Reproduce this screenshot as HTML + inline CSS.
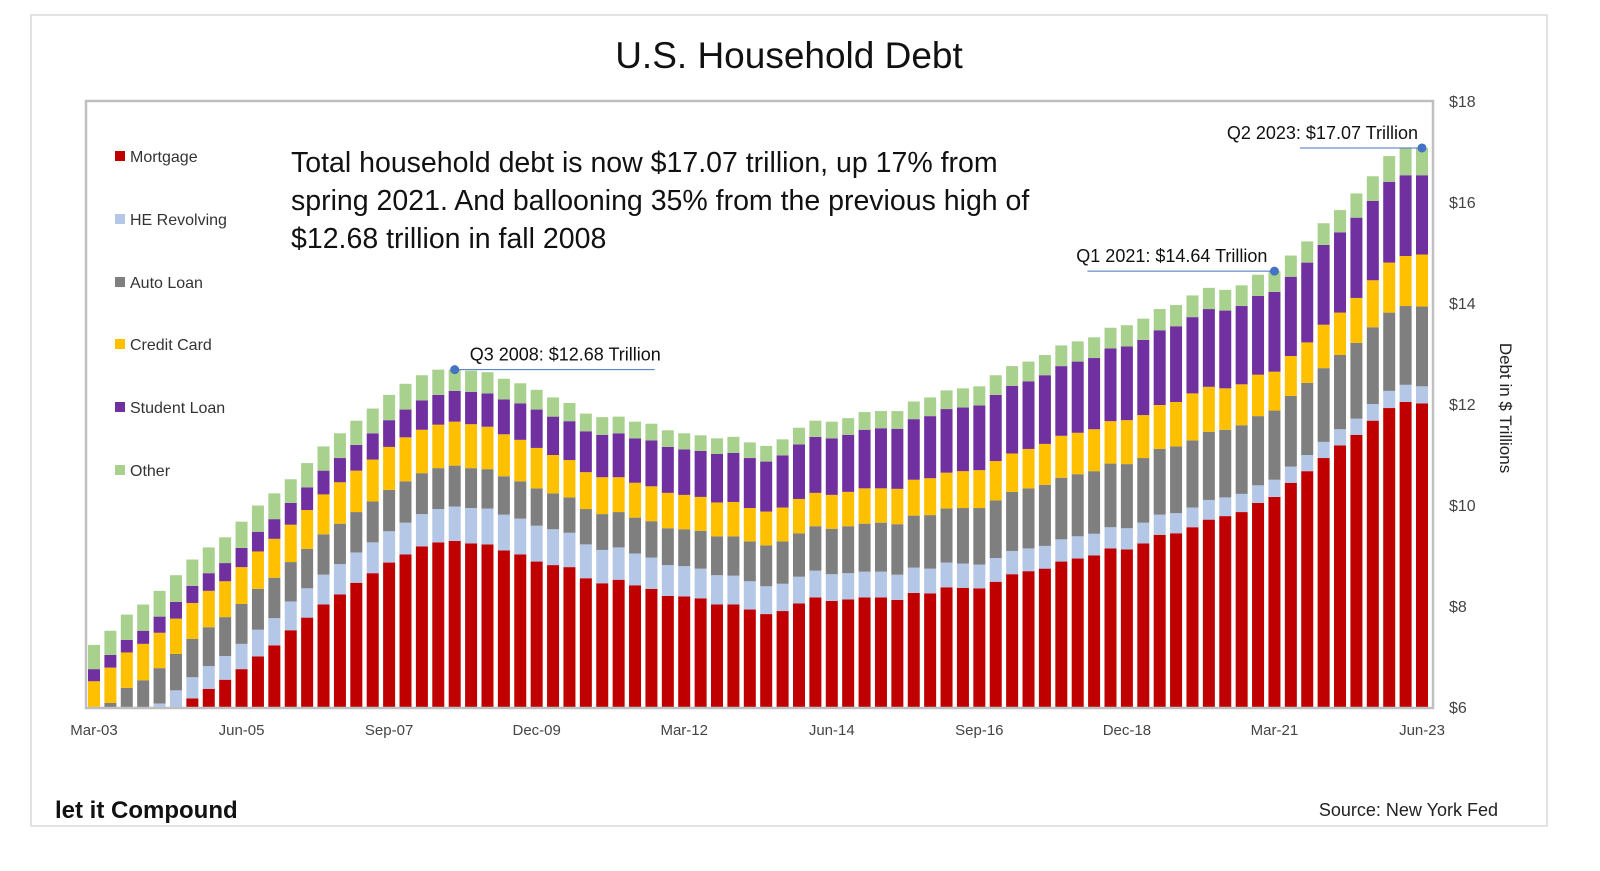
<!DOCTYPE html>
<html><head><meta charset="utf-8"><style>
body{margin:0;background:#fff;font-family:"Liberation Sans",sans-serif;}
svg text{font-family:"Liberation Sans",sans-serif;}
</style></head><body>
<svg id="chart" width="1600" height="866" viewBox="0 0 1600 866" xmlns="http://www.w3.org/2000/svg">
<rect x="31" y="15" width="1516" height="811" fill="#fff" stroke="#d9d9d9" stroke-width="1.5"/>
<text x="789" y="68" text-anchor="middle" font-size="37" fill="#111">U.S. Household Debt</text>
<defs><clipPath id="plotclip"><rect x="87" y="102" width="1345" height="605"/></clipPath></defs>
<g id="bars" clip-path="url(#plotclip)"></g>
<rect x="86" y="101" width="1347" height="607" fill="none" stroke="#bfbfbf" stroke-width="2.5"/>
<g id="yaxis"></g>
<g id="xaxis"></g>
<text transform="translate(1500,408) rotate(90)" text-anchor="middle" font-size="17" fill="#222">Debt in $ Trillions</text>
<g id="legend"></g>
<g font-size="28.5" fill="#111">
<text x="291" y="172">Total household debt is now $17.07 trillion, up 17% from</text>
<text x="291" y="210">spring 2021. And ballooning 35% from the previous high of</text>
<text x="291" y="248">$12.68 trillion in fall 2008</text>
</g>
<g id="annots"></g>
<text x="55" y="818" font-size="24" font-weight="bold" fill="#111">let it Compound</text>
<text x="1498" y="816" text-anchor="end" font-size="18" fill="#222">Source: New York Fed</text>
</svg>
<script>
const mortgage=[4.94,5.18,5.41,5.53,5.72,5.95,6.17,6.36,6.54,6.75,7.00,7.22,7.52,7.77,8.03,8.23,8.46,8.65,8.86,9.02,9.18,9.26,9.29,9.24,9.22,9.10,9.02,8.88,8.81,8.77,8.55,8.45,8.52,8.41,8.34,8.20,8.19,8.15,8.03,8.03,7.93,7.84,7.90,8.05,8.17,8.10,8.13,8.17,8.17,8.12,8.26,8.25,8.37,8.36,8.35,8.48,8.63,8.69,8.74,8.88,8.94,9.00,9.14,9.12,9.24,9.41,9.44,9.56,9.71,9.78,9.86,10.04,10.16,10.44,10.67,10.93,11.18,11.39,11.67,11.92,12.04,12.01];
const heRevolving=[.24,.26,.29,.30,.35,.38,.42,.45,.47,.50,.53,.54,.57,.58,.59,.60,.60,.61,.62,.63,.64,.66,.68,.70,.71,.71,.71,.71,.71,.68,.67,.66,.64,.63,.62,.61,.60,.59,.58,.57,.56,.55,.54,.53,.53,.53,.52,.51,.51,.50,.50,.49,.49,.48,.47,.47,.46,.45,.45,.44,.44,.43,.42,.42,.41,.40,.40,.39,.39,.37,.36,.35,.34,.32,.32,.32,.32,.32,.33,.34,.34,.34];
const autoLoan=[.64,.64,.68,.70,.70,.72,.76,.77,.77,.79,.81,.80,.78,.78,.80,.80,.80,.81,.82,.82,.81,.81,.81,.79,.78,.76,.74,.74,.71,.70,.70,.71,.70,.71,.72,.73,.73,.75,.77,.78,.79,.81,.84,.86,.88,.90,.93,.95,.97,1.00,1.03,1.06,1.07,1.10,1.12,1.14,1.17,1.19,1.21,1.22,1.23,1.24,1.26,1.27,1.28,1.30,1.32,1.33,1.35,1.34,1.36,1.37,1.37,1.40,1.43,1.46,1.47,1.50,1.52,1.55,1.56,1.58];
const creditCard=[.69,.70,.70,.72,.70,.70,.71,.72,.71,.73,.74,.77,.74,.77,.79,.82,.82,.83,.85,.87,.86,.86,.87,.87,.84,.83,.82,.80,.76,.74,.73,.73,.69,.69,.69,.70,.68,.67,.67,.68,.66,.67,.67,.68,.66,.67,.68,.70,.68,.70,.71,.73,.71,.73,.75,.78,.76,.78,.81,.83,.82,.83,.84,.87,.85,.87,.88,.93,.89,.82,.81,.82,.77,.79,.80,.86,.84,.89,.93,.99,.99,1.03];
const studentLoan=[.24,.25,.25,.26,.32,.33,.34,.35,.36,.38,.39,.39,.43,.45,.47,.48,.51,.52,.53,.55,.58,.59,.61,.64,.66,.69,.72,.76,.76,.77,.81,.84,.87,.88,.91,.91,.90,.91,.96,.97,.99,.99,1.03,1.08,1.11,1.12,1.13,1.16,1.19,1.19,1.20,1.23,1.26,1.26,1.28,1.31,1.34,1.34,1.36,1.38,1.41,1.41,1.44,1.46,1.49,1.48,1.50,1.51,1.54,1.54,1.55,1.56,1.58,1.57,1.58,1.58,1.59,1.59,1.57,1.60,1.60,1.57];
const other=[.48,.48,.50,.52,.51,.53,.52,.51,.51,.52,.52,.51,.47,.48,.48,.49,.48,.49,.50,.51,.50,.50,.42,.42,.42,.41,.40,.39,.38,.36,.35,.35,.33,.33,.33,.33,.32,.31,.31,.32,.31,.31,.32,.33,.32,.33,.33,.35,.34,.35,.35,.37,.37,.38,.38,.39,.39,.39,.40,.41,.40,.41,.41,.42,.42,.42,.42,.43,.42,.41,.41,.42,.41,.42,.42,.43,.44,.48,.49,.51,.53,.54];
const seriesNames=["Mortgage","HE Revolving","Auto Loan","Credit Card","Student Loan","Other"];
const yTicks=[6,8,10,12,14,16,18];
const xTickLabels=["Mar-03","Jun-05","Sep-07","Dec-09","Mar-12","Jun-14","Sep-16","Dec-18","Mar-21","Jun-23"];
const xTickIndex=[0,9,18,27,36,45,54,63,72,81];
const annotIndex=[22,72,81];
const annotLabels=["Q3 2008: $12.68 Trillion","Q1 2021: $14.64 Trillion","Q2 2023: $17.07 Trillion"];

const series=[mortgage,heRevolving,autoLoan,creditCard,studentLoan,other];
const colors=["#C00000","#B4C7E7","#7F7F7F","#FFC000","#7030A0","#A9D18E"];
const NS="http://www.w3.org/2000/svg";
const n=mortgage.length;
function xPos(i){return 94+i*(1422-94)/(n-1);}
function yPos(v){return 707-(v-6)*(606/12);}
const bw=12;
function mk(tag,attrs,parent){const e=document.createElementNS(NS,tag);for(const k in attrs)e.setAttribute(k,attrs[k]);parent.appendChild(e);return e;}
const gb=document.getElementById('bars');
for(let i=0;i<n;i++){
  let base=0;
  for(let s=0;s<series.length;s++){
    const v=series[s][i];
    const top=base+v;
    const y1=yPos(top),y0=yPos(Math.max(base,5.5));
    if(top>6){
      const r=mk('rect',{x:xPos(i)-bw/2,y:y1,width:bw,height:Math.max(0,y0-y1),fill:colors[s]},gb);
      
      
    }
    base=top;
  }
}
const gy=document.getElementById('yaxis');
yTicks.forEach(t=>{
  const e=mk('text',{x:1449,y:yPos(t)+6,'font-size':16,fill:'#444'},gy);
  e.textContent='$'+t;
  
  
});
const gx=document.getElementById('xaxis');
xTickLabels.forEach((l,k)=>{
  const e=mk('text',{x:xPos(xTickIndex[k]),y:735,'font-size':15,fill:'#444','text-anchor':'middle'},gx);
  e.textContent=l;
  
  
});
const gl=document.getElementById('legend');
const ly=[156,219,282,344,407,470];
seriesNames.forEach((nm,s)=>{
  const g=mk('g',{},gl);
  
  
  mk('rect',{x:115,y:ly[s]-5,width:10,height:10,fill:colors[s]},g);
  const t=mk('text',{x:130,y:ly[s]+6,'font-size':16,fill:'#333'},g);
  t.textContent=nm;
});
const ga=document.getElementById('annots');
function totalAt(i){return series.reduce((a,s)=>a+s[i],0);}
const lineSpec=[[0,200],[-187,0],[-122,0]];
const textSpec=[[15,'start'],[-7,'end'],[-4,'end']];
annotIndex.forEach((idx,k)=>{
  const x=xPos(idx),y=yPos(totalAt(idx));
  const g=mk('g',{},ga);
  
  
  mk('line',{x1:x+lineSpec[k][0],x2:x+lineSpec[k][1],y1:y,y2:y,stroke:'#4472C4','stroke-width':1},g);
  mk('circle',{cx:x,cy:y,r:4.5,fill:'#4472C4'},g);
  const t=mk('text',{x:x+textSpec[k][0],y:y-9,'font-size':18,fill:'#111','text-anchor':textSpec[k][1]},g);
  t.textContent=annotLabels[k];
});
</script>
</body></html>
